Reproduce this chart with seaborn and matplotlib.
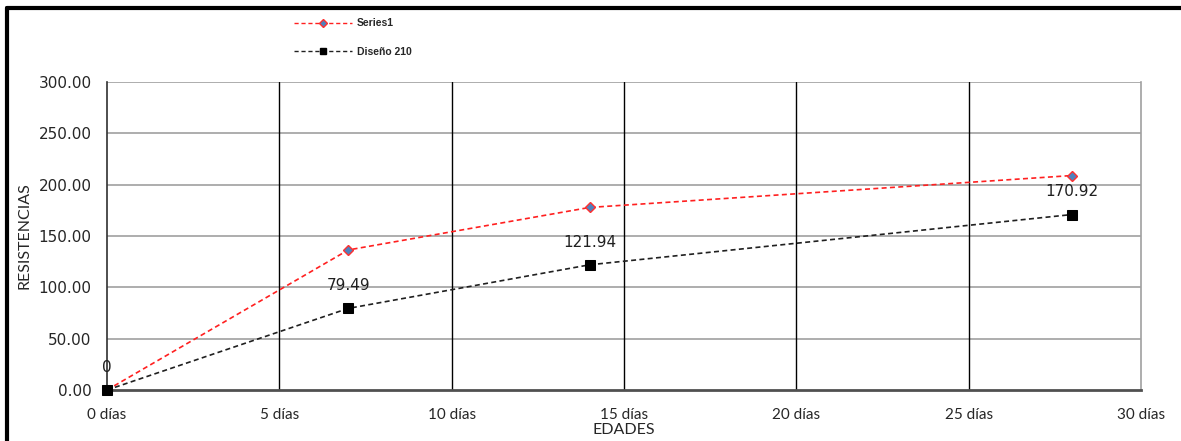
import matplotlib
matplotlib.use("Agg")
import matplotlib.pyplot as plt
import seaborn as sns
import pandas as pd
from matplotlib.lines import Line2D

edades = [0, 7, 14, 28]
series1 = [0.0, 136.4, 177.8, 208.9]
diseno210 = [0.0, 79.49, 121.94, 170.92]
etiquetas = ["0", "79.49", "121.94", "170.92"]
x_ticks = [0, 5, 10, 15, 20, 25, 30]
x_ticklabels = ["0 días", "5 días", "10 días", "15 días", "20 días", "25 días", "30 días"]
y_ticks = [0, 50, 100, 150, 200, 250, 300]

sns.set_theme(style="white")
plt.rcParams['font.family'] = ['DejaVu Sans']

df = pd.DataFrame({"edad": edades + edades,
                   "valor": series1 + diseno210,
                   "serie": ["Series1"] * 4 + ["Diseño 210"] * 4})

fig = plt.figure(figsize=(11.81, 4.41), dpi=100)
ax = fig.add_axes([107/1181, 1-390/441, (1141-107)/1181, (390-82)/441])

sns.lineplot(data=df[df.serie == "Series1"], x="edad", y="valor", ax=ax,
             color="#FF2020", linestyle=(0, (3, 2)), linewidth=1.2,
             marker="D", markersize=5.5, markerfacecolor="#4F81BD",
             markeredgecolor="#FF3030", markeredgewidth=1.0, label="Series1", legend=False,
             clip_on=False, zorder=5)
sns.lineplot(data=df[df.serie == "Diseño 210"], x="edad", y="valor", ax=ax,
             color="#202020", linestyle=(0, (3, 2)), linewidth=1.2,
             marker="s", markersize=7, markerfacecolor="black",
             markeredgecolor="black", label="Diseño 210", legend=False,
             clip_on=False, zorder=6)

for x, y, t in zip(edades, diseno210, etiquetas):
    ax.annotate(t, (x, y), xytext=(0, 11), textcoords="offset points",
                ha="center", va="bottom", fontsize=11, color="#202020")

ax.set_xlim(0, 30)
ax.set_ylim(0, 300)
ax.set_xticks(x_ticks)
ax.set_xticklabels(x_ticklabels, fontfamily="Lato", fontsize=11)
ax.set_yticks(y_ticks)
ax.set_yticklabels([f"{v:.2f}" for v in y_ticks], fontsize=11)
ax.tick_params(axis="both", direction="out", length=5, width=1, color="#303030", pad=6)
ax.tick_params(axis="x", pad=8)

ax.grid(False)
for v in y_ticks[1:]:
    ax.axhline(v, color="#A0A0A0", linewidth=1.2, zorder=0)
for v in x_ticks[1:-1]:
    ax.axvline(v, color="black", linewidth=1.0, zorder=0)

ax.spines["top"].set_visible(False)
ax.spines["right"].set_color("#A0A0A0")
ax.spines["right"].set_linewidth(1.2)
ax.spines["left"].set_color("#303030")
ax.spines["left"].set_linewidth(1.2)
ax.spines["bottom"].set_color("#505050")
ax.spines["bottom"].set_linewidth(2.0)

ax.set_xlabel("EDADES", fontfamily="Lato", fontsize=11.5, labelpad=1)
ax.set_ylabel("RESISTENCIAS", fontfamily="Lato", fontsize=11.5, labelpad=5)

handles = [Line2D([], [], color="#FF2020", linestyle=(0, (3, 2)), linewidth=1.0,
                  marker="D", markersize=4, markerfacecolor="#4F81BD", markeredgecolor="#FF3030"),
           Line2D([], [], color="#202020", linestyle=(0, (3, 2)), linewidth=1.0,
                  marker="s", markersize=5, markerfacecolor="black", markeredgecolor="black")]
fig.legend(handles, ["Series1", "Diseño 210"], loc="upper left",
           bbox_to_anchor=(285/1181, 1-9/441), frameon=False,
           prop={"family": "Liberation Sans", "weight": "bold", "size": 7.5},
           handlelength=5.5, labelspacing=1.8, handletextpad=0.5)

# outer frame
fig.add_artist(Line2D([7/1181, 1.0], [1-8/441, 1-8/441], color="black", linewidth=3, transform=fig.transFigure))
fig.add_artist(Line2D([7/1181, 7/1181], [0.0, 1-8/441], color="black", linewidth=3, transform=fig.transFigure))

fig.savefig("out.png", dpi=100)
